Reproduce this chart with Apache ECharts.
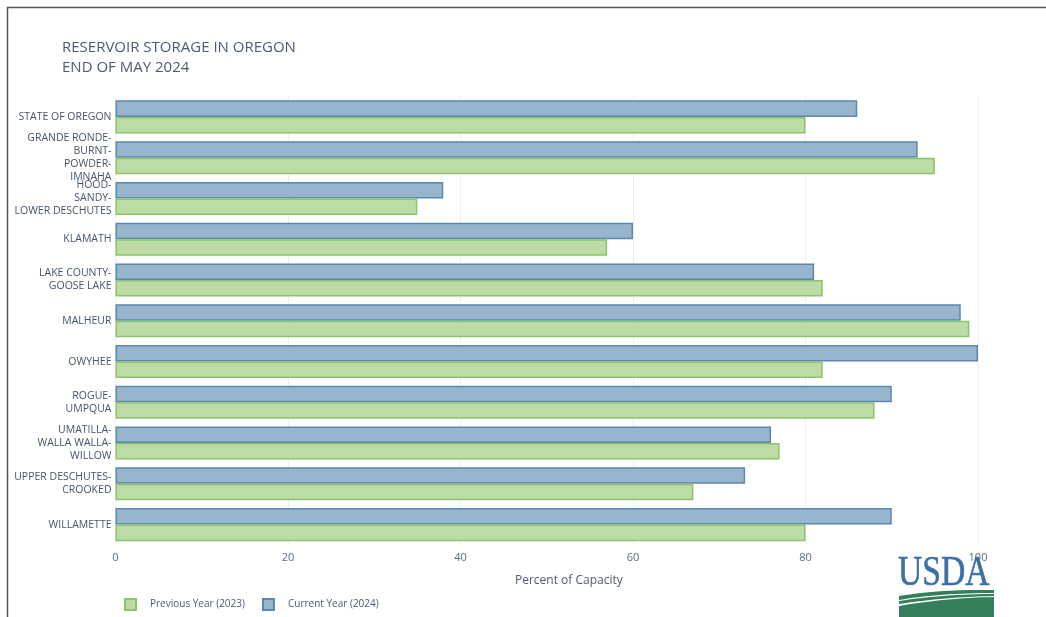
<!DOCTYPE html>
<html>
<head>
<meta charset="utf-8">
<script src="https://cdn.jsdelivr.net/npm/echarts@6/dist/echarts.min.js"></script>
<style>
  html, body { margin: 0; padding: 0; background: #fff; }
  #chart { width: 1046px; height: 617px; }
</style>
</head>
<body>
<div id="chart"></div>
<script>
// Basins, listed top to bottom
const basins = [
  'STATE OF OREGON',
  'GRANDE RONDE-\nBURNT-\nPOWDER-\nIMNAHA',
  'HOOD-\nSANDY-\nLOWER DESCHUTES',
  'KLAMATH',
  'LAKE COUNTY-\nGOOSE LAKE',
  'MALHEUR',
  'OWYHEE',
  'ROGUE-\nUMPQUA',
  'UMATILLA-\nWALLA WALLA-\nWILLOW',
  'UPPER DESCHUTES-\nCROOKED',
  'WILLAMETTE'
];

// Percent of capacity, end of May
const current2024 = [86, 93, 38, 60, 81, 98, 100, 90, 76, 73, 90];
const previous2023 = [80, 95, 35, 57, 82, 99, 82, 88, 77, 67, 80];

const xTicks = [0, 20, 40, 60, 80, 100];

const FONT = '"Open Sans", "Noto Sans", sans-serif';

// Sample a quadratic curve into polygon points (for the logo's swooshes)
function quad(p0, c, p1, n) {
  const pts = [];
  for (let i = 0; i <= n; i++) {
    const t = i / n, u = 1 - t;
    pts.push([u * u * p0[0] + 2 * u * t * c[0] + t * t * p1[0],
              u * u * p0[1] + 2 * u * t * c[1] + t * t * p1[1]]);
  }
  return pts;
}
function band(topA, topC, topB, botB, botC, botA) {
  return quad(topA, topC, topB, 16).concat(quad(botB, botC, botA, 16));
}

const LOGO_GREEN = '#347e5c';

const chart = echarts.init(document.getElementById('chart'), null, { renderer: 'canvas' });

chart.setOption({
  animation: false,
  backgroundColor: '#ffffff',
  textStyle: { fontFamily: FONT },
  title: [
    {
      text: 'RESERVOIR STORAGE IN OREGON\nEND OF MAY 2024',
      left: 57, top: 33,
      textStyle: { fontFamily: FONT, fontSize: 15, fontWeight: 'normal', color: '#4d5b72', lineHeight: 20 }
    },
    {
      text: 'Percent of Capacity',
      left: 510, top: 570,
      textStyle: { fontFamily: FONT, fontSize: 12, fontWeight: 'normal', color: '#4d5b72' }
    }
  ],
  legend: {
    left: 119, top: 593,
    orient: 'horizontal',
    data: ['Previous Year (2023)', 'Current Year (2024)'],
    itemWidth: 11, itemHeight: 11, itemGap: 17,
    icon: 'rect',
    textStyle: { fontFamily: FONT, fontSize: 10, color: '#4d5b72', padding: [0, 0, 0, 9] }
  },
  grid: { left: 115.5, right: 68, top: 96.5, bottom: 72, containLabel: false },
  xAxis: {
    type: 'value',
    min: xTicks[0], max: xTicks[xTicks.length - 1], interval: 20,
    axisLine: { show: false },
    axisTick: { show: false },
    splitLine: { show: true, lineStyle: { color: '#eceff4', width: 1 } },
    axisLabel: { color: '#5b6a80', fontSize: 11, fontFamily: FONT, margin: 7 }
  },
  yAxis: {
    type: 'category',
    data: basins,
    inverse: true,
    axisLine: { show: false },
    axisTick: { show: false },
    axisLabel: {
      color: '#46546a', fontSize: 10.5, fontFamily: FONT, margin: 4,
      lineHeight: 13, align: 'right', interval: 0
    }
  },
  series: [
    {
      name: 'Current Year (2024)',
      type: 'bar',
      data: current2024,
      barGap: '0%',
      barCategoryGap: '19%',
      itemStyle: { color: '#97b5cc', borderColor: '#5a88ae', borderWidth: 1.5 }
    },
    {
      name: 'Previous Year (2023)',
      type: 'bar',
      data: previous2023,
      barGap: '0%',
      barCategoryGap: '19%',
      itemStyle: { color: '#bddba5', borderColor: '#8cc46b', borderWidth: 1.5 }
    }
  ],
  graphic: [
    // frame along the top and left edges
    {
      type: 'polyline', z: 100,
      shape: { points: [[7.5, 617], [7.5, 7.5], [1046, 7.5]] },
      style: { stroke: '#555', lineWidth: 1.5, fill: null }
    },
    // USDA mark
    {
      type: 'text', z: 100,
      x: 898, y: 553, scaleX: 0.8,
      style: {
        text: 'USDA', fill: '#3b6fa6', stroke: '#3b6fa6', lineWidth: 0.6,
        font: 'normal 42px "Liberation Serif", "DejaVu Serif", serif'
      }
    },
    {
      type: 'polygon', z: 100,
      shape: { points: band([899, 606], [945, 598], [994, 597], [994, 617], [945, 617], [899, 617]) },
      style: { fill: LOGO_GREEN }
    },
    {
      type: 'polygon', z: 100,
      shape: { points: band([899, 596], [940, 589], [994, 590], [994, 593], [940, 593], [899, 600]) },
      style: { fill: LOGO_GREEN }
    },
    {
      type: 'polygon', z: 100,
      shape: { points: band([899, 601], [945, 594], [994, 594], [994, 596], [945, 597], [899, 604]) },
      style: { fill: LOGO_GREEN }
    }
  ]
});
</script>
</body>
</html>
